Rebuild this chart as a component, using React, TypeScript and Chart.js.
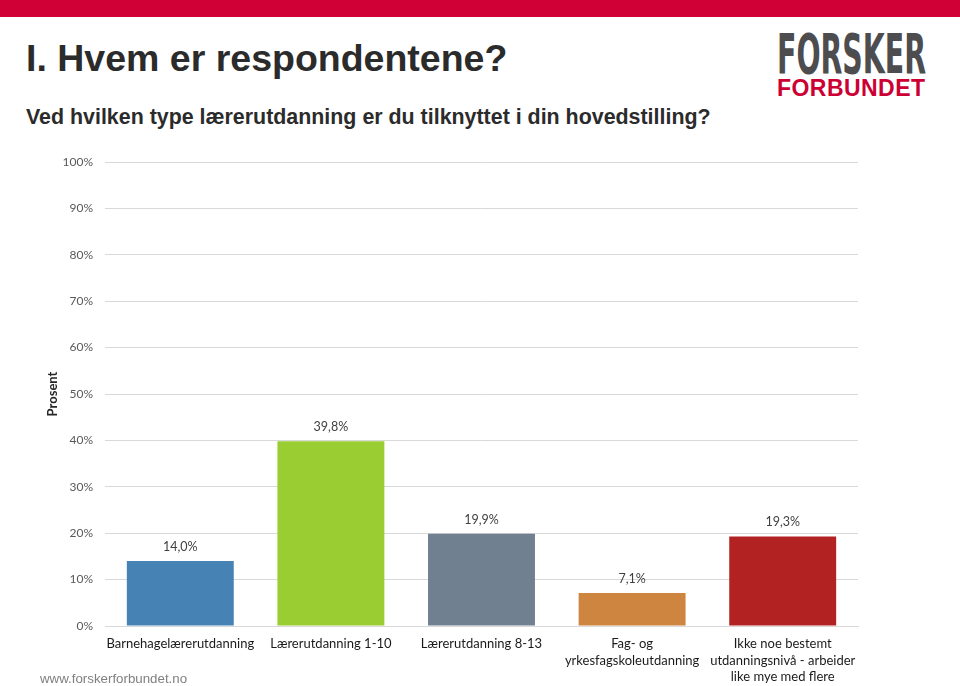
import React, { useEffect, useRef } from "react";
import { Chart, registerables } from "chart.js";

Chart.register(...registerables);

const categories: string[][] = [
  ["Barnehagelærerutdanning"],
  ["Lærerutdanning 1-10"],
  ["Lærerutdanning 8-13"],
  ["Fag- og", "yrkesfagskoleutdanning"],
  ["Ikke noe bestemt", "utdanningsnivå - arbeider", "like mye med flere"],
];
const values = [14.0, 39.8, 19.9, 7.1, 19.3];
const valueLabels = ["14,0%", "39,8%", "19,9%", "7,1%", "19,3%"];
const barColors = ["#4682B4", "#9ACD32", "#708090", "#CD853F", "#B22222"];
const yMin = 0;
const yMax = 100;
const yStep = 10;
const yAxisTitle = "Prosent";
const title = "I. Hvem er respondentene?";
const subtitle = "Ved hvilken type lærerutdanning er du tilknyttet i din hovedstilling?";
const footer = "www.forskerforbundet.no";

const CHART_FONT = "Lato, 'Open Sans', sans-serif";

const valueLabelPlugin = {
  id: "valueLabels",
  afterDatasetsDraw(chart: any) {
    const ctx = chart.ctx;
    const meta = chart.getDatasetMeta(0);
    ctx.save();
    ctx.font = "12.5px " + CHART_FONT;
    ctx.fillStyle = "#404040";
    ctx.textAlign = "center";
    ctx.textBaseline = "middle";
    meta.data.forEach((bar: any, i: number) => {
      ctx.fillText(valueLabels[i], bar.x, bar.y - 14);
    });
    ctx.restore();
  },
};

function BarChart() {
  const ref = useRef<HTMLCanvasElement | null>(null);
  useEffect(() => {
    if (!ref.current) return;
    const chart = new Chart(ref.current, {
      type: "bar",
      data: {
        labels: categories,
        datasets: [
          {
            data: values,
            backgroundColor: barColors,
            borderWidth: 0,
            barPercentage: 0.71,
            categoryPercentage: 1,
          },
        ],
      },
      options: {
        responsive: false,
        animation: false,
        devicePixelRatio: 1,
        layout: { padding: { top: 22, right: 102, bottom: 0, left: 0 } },
        plugins: {
          legend: { display: false },
          tooltip: { enabled: false },
          title: { display: false },
        },
        scales: {
          x: {
            grid: { display: false, drawTicks: false },
            border: { display: true, color: "#d9d9d9", width: 1 },
            ticks: {
              color: "#1a1a1a",
              font: { family: CHART_FONT, size: 13, lineHeight: 1.27 },
              padding: 10,
              maxRotation: 0,
              minRotation: 0,
              autoSkip: false,
            },
            afterFit(scale: any) {
              scale.height = 60;
            },
          },
          y: {
            min: yMin,
            max: yMax,
            grid: { color: "#d9d9d9", lineWidth: 1, drawTicks: false },
            border: { display: false },
            ticks: {
              stepSize: yStep,
              color: "#595959",
              font: { family: CHART_FONT, size: 12 },
              padding: 12,
              callback: (v: any) => v + "%",
            },
            title: {
              display: true,
              text: yAxisTitle,
              color: "#262626",
              font: { family: CHART_FONT, size: 13, weight: "bold", lineHeight: 1.2 },
              padding: { top: 45, bottom: 0 },
            },
            afterFit(scale: any) {
              scale.width = 105;
            },
          },
        },
      },
      plugins: [valueLabelPlugin],
    } as any);
    return () => chart.destroy();
  }, []);
  return (
    <canvas
      ref={ref}
      width={960}
      height={546}
      style={{ position: "absolute", left: 0, top: 140, width: 960, height: 546 }}
    />
  );
}

export default function App() {
  return (
    <div
      style={{
        position: "fixed",
        left: 0,
        top: 0,
        width: 960,
        height: 686,
        background: "#ffffff",
        overflow: "hidden",
        fontFamily: "'Liberation Sans', Arial, sans-serif",
      }}
    >
      <div style={{ position: "absolute", left: 0, top: 0, width: 960, height: 17, background: "#D00036" }} />
      <div
        style={{
          position: "absolute",
          left: 26,
          top: 40,
          fontSize: 37.5,
          lineHeight: 1,
          fontWeight: "bold",
          color: "#2b2b2b",
          whiteSpace: "nowrap",
        }}
      >
        {title}
      </div>
      <div
        style={{
          position: "absolute",
          left: 26,
          top: 107,
          fontSize: 21.4,
          lineHeight: 1,
          fontWeight: "bold",
          color: "#2b2b2b",
          whiteSpace: "nowrap",
        }}
      >
        {subtitle}
      </div>
      <svg
        width={180}
        height={85}
        style={{ position: "absolute", left: 770, top: 25 }}
      >
        <text
          x={7}
          y={48}
          fontSize={56}
          fontWeight="bold"
          fontFamily="'Liberation Sans Narrow', 'DejaVu Sans Condensed', 'Liberation Sans', sans-serif"
          fill="#4d4d4f"
          textLength={149}
          lengthAdjust="spacingAndGlyphs"
        >
          FORSKER
        </text>
        <text
          x={7}
          y={71}
          fontSize={23}
          fontWeight="bold"
          fontFamily="'Liberation Sans', sans-serif"
          fill="#CC0033"
          textLength={148}
          lengthAdjust="spacing"
        >
          FORBUNDET
        </text>
      </svg>
      <BarChart />
      <div
        style={{
          position: "absolute",
          left: 40,
          top: 672,
          fontSize: 13.3,
          lineHeight: 1,
          color: "#808080",
          whiteSpace: "nowrap",
        }}
      >
        {footer}
      </div>
    </div>
  );
}
